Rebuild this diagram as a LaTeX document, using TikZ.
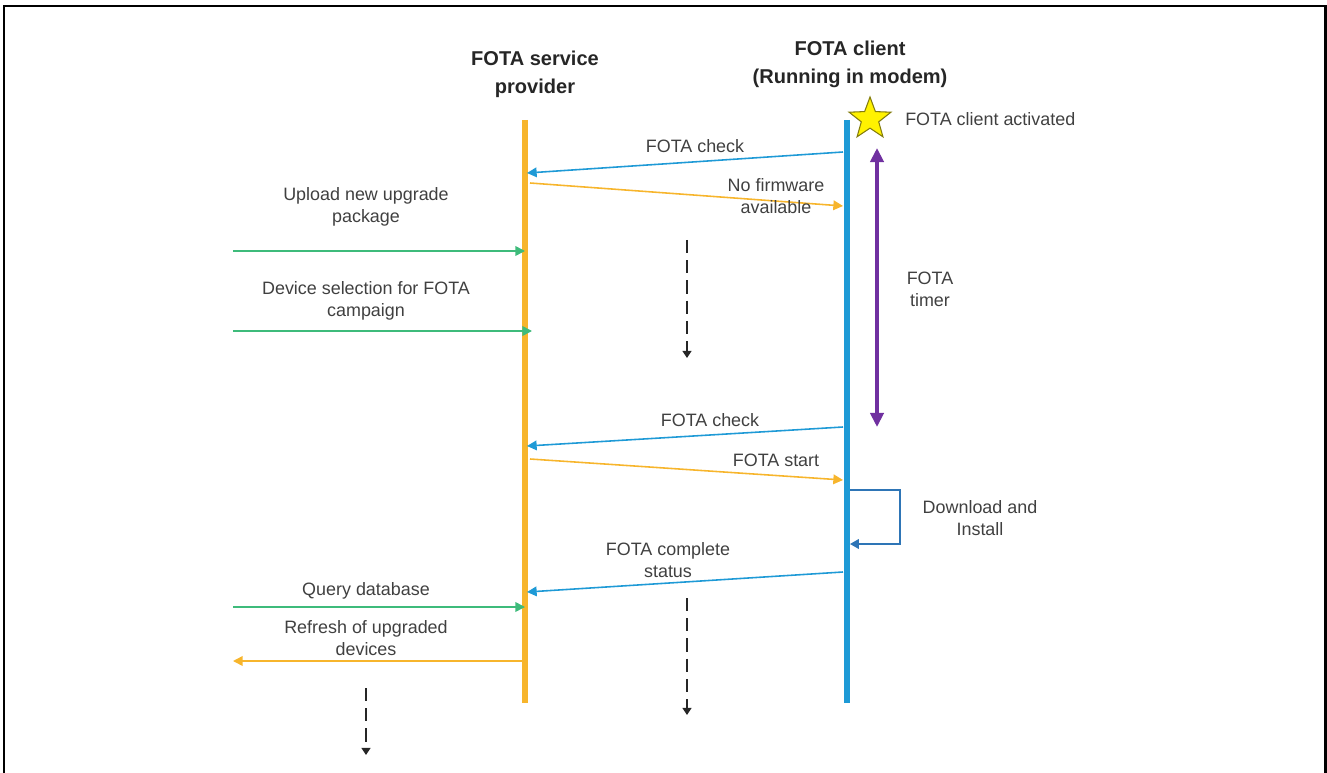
\documentclass[tikz,border=0pt]{standalone}
\usepackage{fontspec}
\setmainfont{Liberation Sans}
\usetikzlibrary{arrows.meta, positioning, shapes.geometric, calc}
\definecolor{fotaorange}{HTML}{F7B52C}
\definecolor{fotablue}{HTML}{1E9AD6}
\definecolor{fotagreen}{HTML}{3EBB7B}
\definecolor{fotapurple}{HTML}{7030A0}
\definecolor{loopblue}{HTML}{2E75B6}
\definecolor{labelgray}{HTML}{404040}
\tikzset{
  lifeline/.style={
    line width=3.4pt, line cap=butt
  },
  title/.style={
    align=center, font=\fontsize{11.4}{16}\selectfont\bfseries, text=black!85
  },
  msglabel/.style={
    align=center, font=\fontsize{10.2}{12.5}\selectfont, text=labelgray, inner sep=1pt
  },
  msg/.style={
    -{Triangle[length=5.5pt,width=5.5pt]}, line width=0.9pt
  },
  waitarrow/.style={
    -{Triangle[length=4pt,width=5pt]}, line width=0.9pt, black!85,
    dash pattern=on 7.5pt off 4pt
  },
  selfloop/.style={
    -{Triangle[length=5pt,width=5.5pt]}, line width=0.75pt, loopblue
  }
}

\begin{document}
\begin{tikzpicture}[x=0.02cm, y=-0.02cm]
\useasboundingbox (0,0) rectangle (1327,773);
\draw[line width=1.7pt] (4,780) |- (1325,6) -- (1325,780);

% lifelines
\coordinate (prov top) at (525,120);
\coordinate (prov bot) at (525,703);
\coordinate (cli top) at (847,120);
\coordinate (cli bot) at (847,703);
\draw[lifeline, fotaorange] (prov top) -- (prov bot);
\draw[lifeline, fotablue] (cli top) -- (cli bot);

\node[title] (prov title) at (535,74) {FOTA service\\provider};
\node[title] (cli title) at (850,64) {FOTA client\\(Running in modem)};

\node[star, star points=5, star point ratio=2.4, minimum size=0.88cm, inner sep=0pt,
  fill=yellow, draw=olive!90!black, line width=0.6pt] (activated) at (870,119) {};
\node[msglabel, right=0.4cm of activated] (activated label) {FOTA client activated};

% first check
\coordinate (chk1 a) at (843,152);
\coordinate (chk1 b) at (527,173);
\draw[msg, fotablue] (chk1 a) -- (chk1 b);
\node[msglabel] (chk1 label) at (695,146) {FOTA check};

\coordinate (nofw a) at (530,183);
\coordinate (nofw b) at (843,206);
\draw[msg, fotaorange] (nofw a) -- (nofw b);
\node[msglabel] (nofw label) at (776,196) {No firmware\\available};

% timer
\coordinate (timer top) at (877,148);
\coordinate (timer bot) at (877,427);
\draw[{Triangle[length=8pt,width=7.5pt]}-{Triangle[length=8pt,width=7.5pt]}, line width=2pt, fotapurple]
  (timer top) -- (timer bot);
\node[msglabel] (timer label) at (930,289) {FOTA\\timer};

% operator side
\coordinate (upl a) at (233,251);
\coordinate (upl b) at (525,251);
\draw[msg, fotagreen] (upl a) -- (upl b);
\node[msglabel] (upl label) at (366,207) {Upload new upgrade\\package};

\coordinate (sel a) at (233,331);
\coordinate (sel b) at (532,331);
\draw[msg, fotagreen] (sel a) -- (sel b);
\node[msglabel] (sel label) at (366,301) {Device selection for FOTA\\campaign};

\coordinate (wait1 a) at (687,240);
\coordinate (wait1 b) at (687,358);
\draw[waitarrow] (wait1 a) -- (wait1 b);

% second check
\coordinate (chk2 a) at (843,427);
\coordinate (chk2 b) at (527,446);
\draw[msg, fotablue] (chk2 a) -- (chk2 b);
\node[msglabel] (chk2 label) at (710,420) {FOTA check};

\coordinate (start a) at (530,459);
\coordinate (start b) at (843,480);
\draw[msg, fotaorange] (start a) -- (start b);
\node[msglabel] (start label) at (776,460) {FOTA start};

\coordinate (dl a) at (850,490);
\coordinate (dl b) at (850,544);
\draw[selfloop] (dl a) -- ++(50,0) |- (dl b);
\node[msglabel] (dl label) at (980,518) {Download and\\Install};

\coordinate (done a) at (843,572);
\coordinate (done b) at (527,592);
\draw[msg, fotablue] (done a) -- (done b);
\node[msglabel] (done label) at (668,560) {FOTA complete\\status};

\coordinate (query a) at (233,607);
\coordinate (query b) at (525,607);
\draw[msg, fotagreen] (query a) -- (query b);
\node[msglabel] (query label) at (366,591) {Query database};

\coordinate (refresh a) at (522,661);
\coordinate (refresh b) at (233,661);
\draw[msg, fotaorange] (refresh a) -- (refresh b);
\node[msglabel] (refresh label) at (366,638) {Refresh of upgraded\\devices};

\coordinate (wait2 a) at (687,598);
\coordinate (wait2 b) at (687,715);
\draw[waitarrow] (wait2 a) -- (wait2 b);
\coordinate (wait3 a) at (366,688);
\coordinate (wait3 b) at (366,755);
\draw[waitarrow] (wait3 a) -- (wait3 b);
\end{tikzpicture}
\end{document}
